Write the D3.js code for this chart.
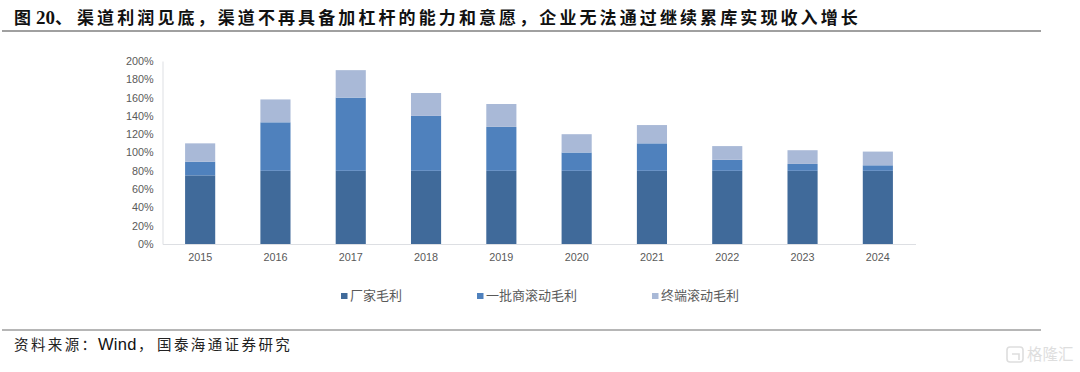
<!DOCTYPE html>
<html>
<head>
<meta charset="utf-8">
<script src="https://cdn.jsdelivr.net/npm/d3@7"></script>
<style>
  html, body { margin: 0; padding: 0; background: #fff; }
  svg { display: block; }
  .tick text { font-family: "Liberation Sans", sans-serif; font-size: 10.8px; fill: #595959; }
</style>
</head>
<body>
<svg width="1080" height="372"></svg>
<script>
const years = ['2015', '2016', '2017', '2018', '2019', '2020', '2021', '2022', '2023', '2024'];
const makerMargin = [75, 80, 80, 80, 80, 80, 80, 80, 80, 80];
const wholesaleMargin = [15, 53, 80, 60, 48, 20, 30, 12, 7.5, 6];
const retailMargin = [20, 25, 30, 25, 25, 20, 20, 15, 15, 15];
const seriesNames = ['厂家毛利', '一批商滚动毛利', '终端滚动毛利'];
const seriesColors = ['#406A9A', '#4F81BD', '#A9B9D7'];
const yTicks = [0, 20, 40, 60, 80, 100, 120, 140, 160, 180, 200];

const svg = d3.select('svg');

const rows = years.map((year, i) => ({
  year,
  [seriesNames[0]]: makerMargin[i],
  [seriesNames[1]]: wholesaleMargin[i],
  [seriesNames[2]]: retailMargin[i]
}));
const stacked = d3.stack().keys(seriesNames)(rows);

const xScale = d3.scaleBand().domain(years).range([162.5, 915.5]).paddingInner(0.6).paddingOuter(0.3);
const yScale = d3.scaleLinear().domain([0, 200]).range([244, 61]);

// title
const title = svg.append('text')
  .attr('x', 14).attr('y', 23.5)
  .attr('font-family', '"Noto Sans CJK SC", sans-serif')
  .attr('font-weight', 700).attr('font-size', 17)
  .attr('letter-spacing', 3.1)
  .attr('fill', '#111');
title.append('tspan').text('图');
title.append('tspan').attr('x', 36)
  .attr('font-family', '"Liberation Serif", serif').attr('font-size', 19).attr('letter-spacing', 0)
  .text('20');
title.append('tspan').attr('x', 55).text('、');
title.append('tspan').attr('x', 77).text('渠道利润见底，渠道不再具备加杠杆的能力和意愿，企业无法通过继续累库实现收入增长');

svg.append('line').attr('x1', 2).attr('x2', 1041).attr('y1', 31).attr('y2', 31)
  .attr('stroke', '#808080').attr('stroke-width', 1.6);

// axes
const yAxis = d3.axisLeft(yScale).tickValues(yTicks).tickFormat(d => d + '%').tickSize(0).tickPadding(9);
const yAxisG = svg.append('g').attr('transform', 'translate(162.5,0)').call(yAxis);
yAxisG.select('.domain').attr('stroke', '#DDDFE3');

const xAxis = d3.axisBottom(xScale).tickSize(0).tickPadding(9);
const xAxisG = svg.append('g').attr('transform', 'translate(0,244)').call(xAxis);
xAxisG.select('.domain').attr('stroke', '#DDDFE3');

// bars
svg.append('g').selectAll('g').data(stacked)
  .enter().append('g')
    .attr('fill', (d, i) => seriesColors[i])
  .selectAll('rect').data(d => d)
  .enter().append('rect')
    .attr('x', d => xScale(d.data.year))
    .attr('width', xScale.bandwidth())
    .attr('y', d => yScale(d[1]))
    .attr('height', d => yScale(d[0]) - yScale(d[1]));

// legend
const legendX = d3.scaleOrdinal().domain(seriesNames).range([341, 477, 652]);
const legend = svg.append('g').selectAll('g').data(seriesNames)
  .enter().append('g')
    .attr('transform', d => `translate(${legendX(d)},293)`);
legend.append('rect').attr('width', 6.5).attr('height', 6)
  .attr('fill', (d, i) => seriesColors[i]);
legend.append('text')
  .attr('x', 9).attr('y', 6.5)
  .attr('font-family', '"Noto Sans CJK SC", sans-serif')
  .attr('font-size', 13).attr('fill', '#595959')
  .text(d => d);

// footer
svg.append('line').attr('x1', 2).attr('x2', 1041).attr('y1', 330).attr('y2', 330)
  .attr('stroke', '#6e6e6e').attr('stroke-width', 1.2);

const source = svg.append('text')
  .attr('x', 14).attr('y', 350)
  .attr('font-family', '"Noto Sans CJK SC", sans-serif')
  .attr('font-size', 14.5).attr('letter-spacing', 2.4).attr('fill', '#222');
source.append('tspan').text('资料来源：');
source.append('tspan').attr('x', 98)
  .attr('font-family', '"Liberation Sans", sans-serif').attr('font-size', 16.5).attr('letter-spacing', 0.3).attr('fill', '#111')
  .text('Wind');
source.append('tspan').attr('x', 138).text('，');
source.append('tspan').attr('x', 157).text('国泰海通证券研究');

// watermark
svg.append('rect').attr('x', 1007).attr('y', 347).attr('width', 16).attr('height', 15).attr('rx', 3)
  .attr('fill', 'none').attr('stroke', '#DEDEDE').attr('stroke-width', 1.6);
svg.append('path').attr('d', 'M1012 354h7v6').attr('fill', 'none').attr('stroke', '#DEDEDE').attr('stroke-width', 1.6);
svg.append('text')
  .attr('x', 1027).attr('y', 360)
  .attr('font-family', '"Noto Sans CJK SC", sans-serif')
  .attr('font-size', 15.5).attr('fill', '#DEDEDE')
  .text('格隆汇');
</script>
</body>
</html>
